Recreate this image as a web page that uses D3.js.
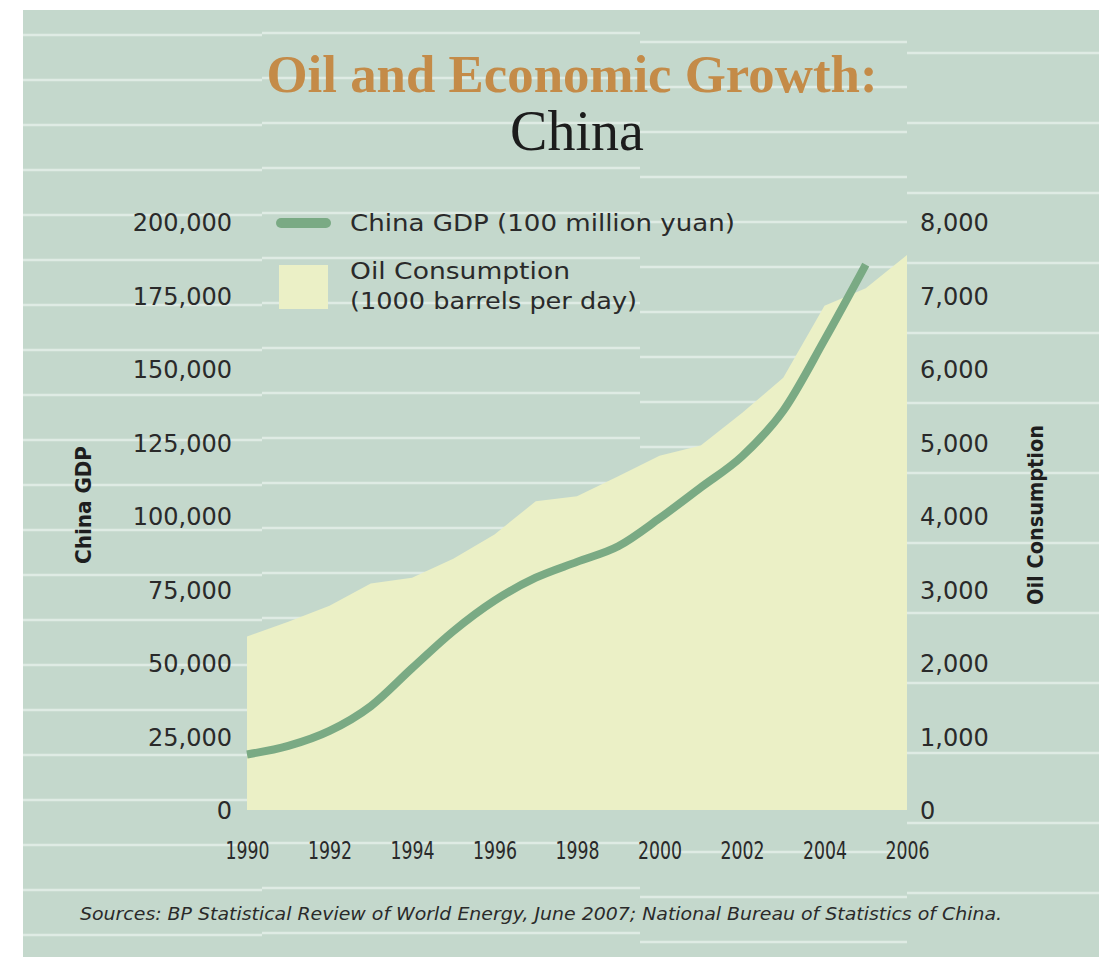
<!DOCTYPE html>
<html>
<head>
<meta charset="utf-8">
<script src="https://cdn.jsdelivr.net/npm/d3@7"></script>
<style>
  body { margin: 0; background: #ffffff; }
  svg { display: block; }
</style>
</head>
<body>
<script>
const width = 1099
const height = 957
const bg_color = "#c4d8cc"
const stripe_color = "#dfebe4"
const area_color = "#ebf0c6"
const line_color = "#7aaa84"
const title_color = "#c48b48"
const text_color = "#2a2a2a"

// data
const years = d3.range(1990, 2007)
const gdp = [18900, 21800, 26900, 35300, 48200, 60800, 71200, 79000, 84400, 89700, 99200, 109700, 120300, 135800, 159900, 185500]
const oil = [2360, 2560, 2780, 3080, 3160, 3420, 3750, 4200, 4270, 4540, 4820, 4960, 5400, 5880, 6860, 7100, 7550]
const x_ticks = [1990, 1992, 1994, 1996, 1998, 2000, 2002, 2004, 2006]
const gdp_ticks = [0, 25000, 50000, 75000, 100000, 125000, 150000, 175000, 200000]
const oil_ticks = [0, 1000, 2000, 3000, 4000, 5000, 6000, 7000, 8000]

var svg = d3.select("body").append("svg")
            .attr("width", width)
            .attr("height", height);

svg.append("rect")
   .attr("x", 23).attr("y", 10)
   .attr("width", width - 23).attr("height", height - 10)
   .style("fill", bg_color);

// background stripes, in staggered columns
const columns = [
  {x0: 23, x1: 262, y0: 35, step: 45},
  {x0: 262, x1: 640, y0: 33, step: 45},
  {x0: 640, x1: 907, y0: 42, step: 45},
  {x0: 907, x1: 1099, y0: 53, step: 70}
]
columns.forEach(function(c) {
  svg.append("g").selectAll("line")
     .data(d3.range(c.y0, height, c.step))
     .join("line")
     .attr("x1", c.x0).attr("x2", c.x1)
     .attr("y1", d => d).attr("y2", d => d)
     .style("stroke", stripe_color)
     .style("stroke-width", 2.5);
});

var x = d3.scaleLinear().domain([1990, 2006]).range([247, 907]);
var yGdp = d3.scaleLinear().domain([0, 200000]).range([810, 222]);
var yOil = d3.scaleLinear().domain([0, 8000]).range([810, 222]);

// oil consumption area
var area = d3.area()
             .x((d, i) => x(years[i]))
             .y0(yOil(0))
             .y1(d => yOil(d));
svg.append("path")
   .datum(oil)
   .attr("d", area)
   .style("fill", area_color);

// gdp line
var line = d3.line()
             .x((d, i) => x(years[i]))
             .y(d => yGdp(d))
             .curve(d3.curveMonotoneX);
svg.append("path")
   .datum(gdp)
   .attr("d", line)
   .style("fill", "none")
   .style("stroke", line_color)
   .style("stroke-width", 8)
   .style("stroke-linejoin", "round");

// axes
var leftAxis = svg.append("g")
   .attr("transform", "translate(232,0)")
   .call(d3.axisLeft(yGdp).tickValues(gdp_ticks).tickSize(0).tickPadding(0).tickFormat(d3.format(",")));

var rightAxis = svg.append("g")
   .attr("transform", "translate(920,0)")
   .call(d3.axisRight(yOil).tickValues(oil_ticks).tickSize(0).tickPadding(0).tickFormat(d3.format(",")));

var bottomAxis = svg.append("g")
   .attr("transform", "translate(0,842)")
   .call(d3.axisBottom(x).tickValues(x_ticks).tickSize(0).tickPadding(0).tickFormat(d3.format("d")));

[leftAxis, rightAxis, bottomAxis].forEach(function(a) {
  a.select(".domain").remove();
  a.selectAll("text")
   .style("font-family", "'DejaVu Sans', sans-serif")
   .style("font-size", "24px")
   .style("fill", text_color);
});
leftAxis.selectAll("text").attr("dy", "0.36em");
rightAxis.selectAll("text").attr("dy", "0.36em");
bottomAxis.selectAll("text")
   .attr("dy", "0.71em")
   .attr("textLength", 44)
   .attr("lengthAdjust", "spacingAndGlyphs");

// axis titles
svg.append("text")
   .attr("transform", "translate(91,505) rotate(-90)")
   .attr("text-anchor", "middle")
   .attr("textLength", 118)
   .attr("lengthAdjust", "spacingAndGlyphs")
   .style("font-family", "'DejaVu Sans', sans-serif")
   .style("font-weight", "bold")
   .style("font-size", "21px")
   .style("fill", "#1e1e1e")
   .text("China GDP");

svg.append("text")
   .attr("transform", "translate(1043,515) rotate(-90)")
   .attr("text-anchor", "middle")
   .attr("textLength", 180)
   .attr("lengthAdjust", "spacingAndGlyphs")
   .style("font-family", "'DejaVu Sans', sans-serif")
   .style("font-weight", "bold")
   .style("font-size", "21px")
   .style("fill", "#1e1e1e")
   .text("Oil Consumption");

// titles
svg.append("text")
   .attr("x", 572).attr("y", 92)
   .attr("text-anchor", "middle")
   .attr("textLength", 611)
   .attr("lengthAdjust", "spacingAndGlyphs")
   .style("font-family", "'Liberation Serif', serif")
   .style("font-weight", "bold")
   .style("font-size", "52px")
   .style("fill", title_color)
   .text("Oil and Economic Growth:");

svg.append("text")
   .attr("x", 577).attr("y", 150)
   .attr("text-anchor", "middle")
   .style("font-family", "'Liberation Serif', serif")
   .style("font-size", "56px")
   .style("fill", "#1c1c1c")
   .text("China");

// legend
svg.append("line")
   .attr("x1", 281).attr("x2", 326)
   .attr("y1", 223).attr("y2", 223)
   .style("stroke", line_color)
   .style("stroke-width", 10)
   .style("stroke-linecap", "round");

svg.append("rect")
   .attr("x", 279).attr("y", 265)
   .attr("width", 49).attr("height", 44)
   .style("fill", area_color);

const legend_font = "'DejaVu Sans', sans-serif"
svg.append("text")
   .attr("x", 350).attr("y", 231)
   .attr("textLength", 385)
   .attr("lengthAdjust", "spacingAndGlyphs")
   .style("font-family", legend_font)
   .style("font-size", "23px")
   .style("fill", text_color)
   .text("China GDP (100 million yuan)");

svg.append("text")
   .attr("x", 350).attr("y", 279)
   .attr("textLength", 220)
   .attr("lengthAdjust", "spacingAndGlyphs")
   .style("font-family", legend_font)
   .style("font-size", "23px")
   .style("fill", text_color)
   .text("Oil Consumption");

svg.append("text")
   .attr("x", 350).attr("y", 309)
   .attr("textLength", 287)
   .attr("lengthAdjust", "spacingAndGlyphs")
   .style("font-family", legend_font)
   .style("font-size", "23px")
   .style("fill", text_color)
   .text("(1000 barrels per day)");

// source
svg.append("text")
   .attr("x", 80).attr("y", 920)
   .attr("textLength", 922)
   .attr("lengthAdjust", "spacingAndGlyphs")
   .style("font-family", "'DejaVu Sans', sans-serif")
   .style("font-style", "italic")
   .style("font-size", "17px")
   .style("fill", text_color)
   .text("Sources: BP Statistical Review of World Energy, June 2007; National Bureau of Statistics of China.");
</script>
</body>
</html>
